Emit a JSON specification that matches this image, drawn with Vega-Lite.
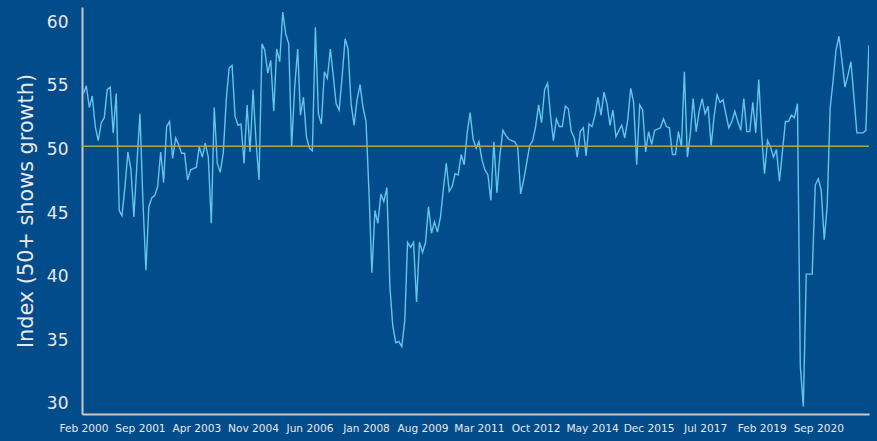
{
  "$schema": "https://vega.github.io/schema/vega-lite/v6.json",
  "width": 787,
  "height": 407,
  "autosize": {"type": "none"},
  "padding": {"left": 82, "top": 7, "right": 8, "bottom": 27},
  "background": "#034c8c",
  "view": {"stroke": null},
  "config": {"font": "DejaVu Sans"},
  "datasets": {
    "pmi": [
      {"date": "2000-02-01", "value": 54.4}, {"date": "2000-03-01", "value": 55.0}, {"date": "2000-04-01", "value": 53.3}, {"date": "2000-05-01", "value": 54.2}, {"date": "2000-06-01", "value": 51.8}, {"date": "2000-07-01", "value": 50.7}, {"date": "2000-08-01", "value": 52.1}, {"date": "2000-09-01", "value": 52.5}, {"date": "2000-10-01", "value": 54.7}, {"date": "2000-11-01", "value": 54.9}, {"date": "2000-12-01", "value": 51.3},
      {"date": "2001-01-01", "value": 54.4}, {"date": "2001-02-01", "value": 45.2}, {"date": "2001-03-01", "value": 44.8}, {"date": "2001-04-01", "value": 47.1}, {"date": "2001-05-01", "value": 49.8}, {"date": "2001-06-01", "value": 48.4}, {"date": "2001-07-01", "value": 44.7}, {"date": "2001-08-01", "value": 48.9}, {"date": "2001-09-01", "value": 52.8}, {"date": "2001-10-01", "value": 46.0}, {"date": "2001-11-01", "value": 40.5}, {"date": "2001-12-01", "value": 45.5},
      {"date": "2002-01-01", "value": 46.2}, {"date": "2002-02-01", "value": 46.4}, {"date": "2002-03-01", "value": 47.1}, {"date": "2002-04-01", "value": 49.8}, {"date": "2002-05-01", "value": 47.4}, {"date": "2002-06-01", "value": 51.8}, {"date": "2002-07-01", "value": 52.2}, {"date": "2002-08-01", "value": 49.3}, {"date": "2002-09-01", "value": 50.9}, {"date": "2002-10-01", "value": 50.4}, {"date": "2002-11-01", "value": 49.7}, {"date": "2002-12-01", "value": 49.7},
      {"date": "2003-01-01", "value": 47.6}, {"date": "2003-02-01", "value": 48.4}, {"date": "2003-03-01", "value": 48.5}, {"date": "2003-04-01", "value": 48.6}, {"date": "2003-05-01", "value": 50.2}, {"date": "2003-06-01", "value": 49.4}, {"date": "2003-07-01", "value": 50.5}, {"date": "2003-08-01", "value": 49.4}, {"date": "2003-09-01", "value": 44.2}, {"date": "2003-10-01", "value": 53.3}, {"date": "2003-11-01", "value": 48.9}, {"date": "2003-12-01", "value": 48.2},
      {"date": "2004-01-01", "value": 49.7}, {"date": "2004-02-01", "value": 53.9}, {"date": "2004-03-01", "value": 56.4}, {"date": "2004-04-01", "value": 56.6}, {"date": "2004-05-01", "value": 52.6}, {"date": "2004-06-01", "value": 51.9}, {"date": "2004-07-01", "value": 52.0}, {"date": "2004-08-01", "value": 48.9}, {"date": "2004-09-01", "value": 53.5}, {"date": "2004-10-01", "value": 49.8}, {"date": "2004-11-01", "value": 54.7}, {"date": "2004-12-01", "value": 50.7},
      {"date": "2005-01-01", "value": 47.6}, {"date": "2005-02-01", "value": 58.3}, {"date": "2005-03-01", "value": 57.8}, {"date": "2005-04-01", "value": 56.0}, {"date": "2005-05-01", "value": 57.0}, {"date": "2005-06-01", "value": 53.0}, {"date": "2005-07-01", "value": 57.9}, {"date": "2005-08-01", "value": 56.9}, {"date": "2005-09-01", "value": 60.8}, {"date": "2005-10-01", "value": 59.1}, {"date": "2005-11-01", "value": 58.3}, {"date": "2005-12-01", "value": 50.2},
      {"date": "2006-01-01", "value": 54.9}, {"date": "2006-02-01", "value": 57.9}, {"date": "2006-03-01", "value": 52.7}, {"date": "2006-04-01", "value": 54.1}, {"date": "2006-05-01", "value": 51.0}, {"date": "2006-06-01", "value": 50.1}, {"date": "2006-07-01", "value": 49.9}, {"date": "2006-08-01", "value": 59.6}, {"date": "2006-09-01", "value": 52.8}, {"date": "2006-10-01", "value": 52.0}, {"date": "2006-11-01", "value": 56.1}, {"date": "2006-12-01", "value": 55.6},
      {"date": "2007-01-01", "value": 57.9}, {"date": "2007-02-01", "value": 55.7}, {"date": "2007-03-01", "value": 53.6}, {"date": "2007-04-01", "value": 53.1}, {"date": "2007-05-01", "value": 55.7}, {"date": "2007-06-01", "value": 58.7}, {"date": "2007-07-01", "value": 57.9}, {"date": "2007-08-01", "value": 53.6}, {"date": "2007-09-01", "value": 51.9}, {"date": "2007-10-01", "value": 53.9}, {"date": "2007-11-01", "value": 55.1}, {"date": "2007-12-01", "value": 53.3},
      {"date": "2008-01-01", "value": 52.2}, {"date": "2008-02-01", "value": 46.5}, {"date": "2008-03-01", "value": 40.3}, {"date": "2008-04-01", "value": 45.2}, {"date": "2008-05-01", "value": 44.2}, {"date": "2008-06-01", "value": 46.5}, {"date": "2008-07-01", "value": 45.9}, {"date": "2008-08-01", "value": 47.0}, {"date": "2008-09-01", "value": 39.2}, {"date": "2008-10-01", "value": 36.1}, {"date": "2008-11-01", "value": 34.8}, {"date": "2008-12-01", "value": 34.9},
      {"date": "2009-01-01", "value": 34.5}, {"date": "2009-02-01", "value": 36.6}, {"date": "2009-03-01", "value": 42.7}, {"date": "2009-04-01", "value": 42.3}, {"date": "2009-05-01", "value": 42.7}, {"date": "2009-06-01", "value": 38.0}, {"date": "2009-07-01", "value": 42.7}, {"date": "2009-08-01", "value": 41.9}, {"date": "2009-09-01", "value": 42.7}, {"date": "2009-10-01", "value": 45.5}, {"date": "2009-11-01", "value": 43.4}, {"date": "2009-12-01", "value": 44.3},
      {"date": "2010-01-01", "value": 43.5}, {"date": "2010-02-01", "value": 44.7}, {"date": "2010-03-01", "value": 46.8}, {"date": "2010-04-01", "value": 48.9}, {"date": "2010-05-01", "value": 46.7}, {"date": "2010-06-01", "value": 47.1}, {"date": "2010-07-01", "value": 48.1}, {"date": "2010-08-01", "value": 48.0}, {"date": "2010-09-01", "value": 49.6}, {"date": "2010-10-01", "value": 48.8}, {"date": "2010-11-01", "value": 51.3}, {"date": "2010-12-01", "value": 52.9},
      {"date": "2011-01-01", "value": 50.8}, {"date": "2011-02-01", "value": 50.1}, {"date": "2011-03-01", "value": 50.6}, {"date": "2011-04-01", "value": 49.2}, {"date": "2011-05-01", "value": 48.4}, {"date": "2011-06-01", "value": 48.0}, {"date": "2011-07-01", "value": 46.0}, {"date": "2011-08-01", "value": 50.6}, {"date": "2011-09-01", "value": 46.6}, {"date": "2011-10-01", "value": 49.5}, {"date": "2011-11-01", "value": 51.5}, {"date": "2011-12-01", "value": 51.1},
      {"date": "2012-01-01", "value": 50.8}, {"date": "2012-02-01", "value": 50.7}, {"date": "2012-03-01", "value": 50.6}, {"date": "2012-04-01", "value": 50.2}, {"date": "2012-05-01", "value": 46.5}, {"date": "2012-06-01", "value": 47.6}, {"date": "2012-07-01", "value": 48.9}, {"date": "2012-08-01", "value": 50.3}, {"date": "2012-09-01", "value": 50.7}, {"date": "2012-10-01", "value": 51.8}, {"date": "2012-11-01", "value": 53.5}, {"date": "2012-12-01", "value": 52.1},
      {"date": "2013-01-01", "value": 54.7}, {"date": "2013-02-01", "value": 55.2}, {"date": "2013-03-01", "value": 52.8}, {"date": "2013-04-01", "value": 50.7}, {"date": "2013-05-01", "value": 52.4}, {"date": "2013-06-01", "value": 51.8}, {"date": "2013-07-01", "value": 51.8}, {"date": "2013-08-01", "value": 53.4}, {"date": "2013-09-01", "value": 53.2}, {"date": "2013-10-01", "value": 51.4}, {"date": "2013-11-01", "value": 50.9}, {"date": "2013-12-01", "value": 49.4},
      {"date": "2014-01-01", "value": 51.4}, {"date": "2014-02-01", "value": 51.7}, {"date": "2014-03-01", "value": 49.5}, {"date": "2014-04-01", "value": 52.0}, {"date": "2014-05-01", "value": 51.8}, {"date": "2014-06-01", "value": 52.7}, {"date": "2014-07-01", "value": 54.1}, {"date": "2014-08-01", "value": 52.7}, {"date": "2014-09-01", "value": 54.5}, {"date": "2014-10-01", "value": 53.6}, {"date": "2014-11-01", "value": 51.9}, {"date": "2014-12-01", "value": 53.1},
      {"date": "2015-01-01", "value": 51.0}, {"date": "2015-02-01", "value": 51.5}, {"date": "2015-03-01", "value": 51.9}, {"date": "2015-04-01", "value": 50.9}, {"date": "2015-05-01", "value": 52.3}, {"date": "2015-06-01", "value": 54.8}, {"date": "2015-07-01", "value": 53.7}, {"date": "2015-08-01", "value": 48.8}, {"date": "2015-09-01", "value": 53.5}, {"date": "2015-10-01", "value": 53.1}, {"date": "2015-11-01", "value": 49.8}, {"date": "2015-12-01", "value": 51.4},
      {"date": "2016-01-01", "value": 50.4}, {"date": "2016-02-01", "value": 51.5}, {"date": "2016-03-01", "value": 51.6}, {"date": "2016-04-01", "value": 51.7}, {"date": "2016-05-01", "value": 52.4}, {"date": "2016-06-01", "value": 51.8}, {"date": "2016-07-01", "value": 51.7}, {"date": "2016-08-01", "value": 49.6}, {"date": "2016-09-01", "value": 49.6}, {"date": "2016-10-01", "value": 51.4}, {"date": "2016-11-01", "value": 50.2}, {"date": "2016-12-01", "value": 56.1},
      {"date": "2017-01-01", "value": 49.4}, {"date": "2017-02-01", "value": 51.3}, {"date": "2017-03-01", "value": 54.0}, {"date": "2017-04-01", "value": 51.4}, {"date": "2017-05-01", "value": 53.0}, {"date": "2017-06-01", "value": 54.0}, {"date": "2017-07-01", "value": 52.8}, {"date": "2017-08-01", "value": 53.4}, {"date": "2017-09-01", "value": 50.3}, {"date": "2017-10-01", "value": 52.6}, {"date": "2017-11-01", "value": 54.3}, {"date": "2017-12-01", "value": 53.7},
      {"date": "2018-01-01", "value": 53.9}, {"date": "2018-02-01", "value": 52.7}, {"date": "2018-03-01", "value": 51.7}, {"date": "2018-04-01", "value": 52.2}, {"date": "2018-05-01", "value": 53.0}, {"date": "2018-06-01", "value": 52.2}, {"date": "2018-07-01", "value": 51.5}, {"date": "2018-08-01", "value": 54.0}, {"date": "2018-09-01", "value": 51.4}, {"date": "2018-10-01", "value": 51.4}, {"date": "2018-11-01", "value": 53.7}, {"date": "2018-12-01", "value": 51.3},
      {"date": "2019-01-01", "value": 55.5}, {"date": "2019-02-01", "value": 51.0}, {"date": "2019-03-01", "value": 48.1}, {"date": "2019-04-01", "value": 50.7}, {"date": "2019-05-01", "value": 50.2}, {"date": "2019-06-01", "value": 49.4}, {"date": "2019-07-01", "value": 50.0}, {"date": "2019-08-01", "value": 47.5}, {"date": "2019-09-01", "value": 49.9}, {"date": "2019-10-01", "value": 52.2}, {"date": "2019-11-01", "value": 52.2}, {"date": "2019-12-01", "value": 52.7},
      {"date": "2020-01-01", "value": 52.5}, {"date": "2020-02-01", "value": 53.6}, {"date": "2020-03-01", "value": 33.0}, {"date": "2020-04-01", "value": 29.8}, {"date": "2020-05-01", "value": 40.2}, {"date": "2020-06-01", "value": 40.2}, {"date": "2020-07-01", "value": 40.2}, {"date": "2020-08-01", "value": 47.2}, {"date": "2020-09-01", "value": 47.7}, {"date": "2020-10-01", "value": 46.8}, {"date": "2020-11-01", "value": 42.9}, {"date": "2020-12-01", "value": 45.5},
      {"date": "2021-01-01", "value": 53.3}, {"date": "2021-02-01", "value": 55.5}, {"date": "2021-03-01", "value": 57.8}, {"date": "2021-04-01", "value": 58.9}, {"date": "2021-05-01", "value": 57.0}, {"date": "2021-06-01", "value": 54.9}, {"date": "2021-07-01", "value": 55.8}, {"date": "2021-08-01", "value": 56.9}, {"date": "2021-09-01", "value": 54.1}, {"date": "2021-10-01", "value": 51.3}, {"date": "2021-11-01", "value": 51.3}, {"date": "2021-12-01", "value": 51.3},
      {"date": "2022-01-01", "value": 51.5}, {"date": "2022-02-01", "value": 58.2}
    ],
    "reference": [{"level": 50.25}]
  },
  "layer": [
    {
      "data": {"name": "pmi"},
      "mark": {"type": "line", "color": "#62c6ea", "strokeWidth": 1.4, "clip": true},
      "encoding": {
        "x": {
          "field": "date",
          "type": "temporal",
          "scale": {"type": "utc", "domain": [{"year": 2000, "month": 1, "date": 17, "utc": true}, {"year": 2022, "month": 2, "date": 2, "utc": true}]},
          "axis": {
            "title": null,
            "values": [
              {"year": 2000, "month": 2, "date": 1, "utc": true},
              {"year": 2001, "month": 9, "date": 1, "utc": true},
              {"year": 2003, "month": 4, "date": 1, "utc": true},
              {"year": 2004, "month": 11, "date": 1, "utc": true},
              {"year": 2006, "month": 6, "date": 1, "utc": true},
              {"year": 2008, "month": 1, "date": 1, "utc": true},
              {"year": 2009, "month": 8, "date": 1, "utc": true},
              {"year": 2011, "month": 3, "date": 1, "utc": true},
              {"year": 2012, "month": 10, "date": 1, "utc": true},
              {"year": 2014, "month": 5, "date": 1, "utc": true},
              {"year": 2015, "month": 12, "date": 1, "utc": true},
              {"year": 2017, "month": 7, "date": 1, "utc": true},
              {"year": 2019, "month": 2, "date": 1, "utc": true},
              {"year": 2020, "month": 9, "date": 1, "utc": true}
            ],
            "format": "%b %Y",
            "grid": false,
            "ticks": false,
            "domainColor": "#c8c8c8",
            "domainWidth": 2,
            "labelColor": "#e8e8e8",
            "labelFont": "DejaVu Sans",
            "labelFontSize": 10.6,
            "labelPadding": 9,
            "labelOverlap": false,
            "labelFlush": false
          }
        },
        "y": {
          "field": "value",
          "type": "quantitative",
          "scale": {"domain": [29.2, 61.2], "nice": false, "zero": false},
          "axis": {
            "title": "Index (50+ shows growth)",
            "values": [30, 35, 40, 45, 50, 55, 60],
            "grid": false,
            "ticks": false,
            "domainColor": "#c8c8c8",
            "domainWidth": 2,
            "labelColor": "#e8e8e8",
            "labelFont": "DejaVu Sans",
            "labelFontSize": 17,
            "labelPadding": 14,
            "titleColor": "#e8e8e8",
            "titleFont": "DejaVu Sans",
            "titleFontSize": 20.8,
            "titleFontWeight": "normal",
            "titlePadding": 10
          }
        }
      }
    },
    {
      "data": {"name": "reference"},
      "mark": {"type": "rule", "color": "#a3ad3f", "strokeWidth": 1.5},
      "encoding": {
        "y": {"field": "level", "type": "quantitative"}
      }
    }
  ]
}
